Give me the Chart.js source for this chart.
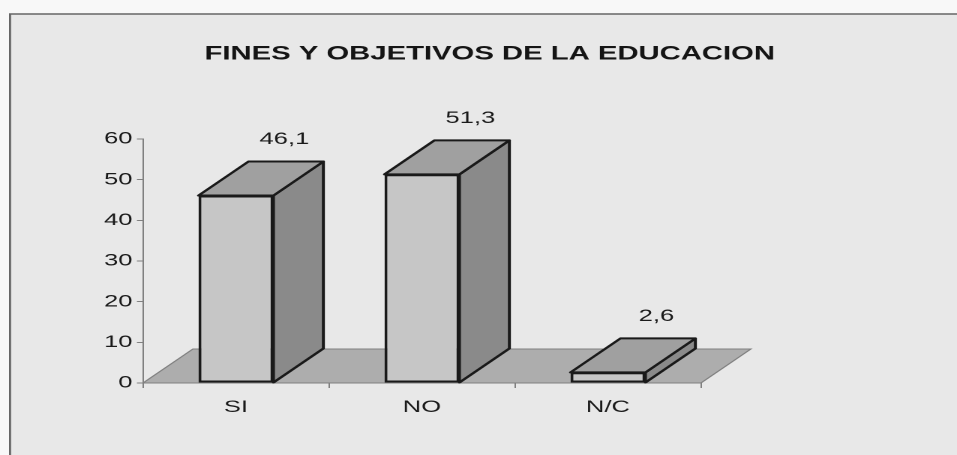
<!DOCTYPE html>
<html>
<head>
<meta charset="utf-8">
<script src="https://cdn.jsdelivr.net/npm/chart.js@4/dist/chart.umd.min.js"></script>
<style>
html,body{margin:0;padding:0;background:#f8f8f8;overflow:hidden}
canvas{display:block}
</style>
</head>
<body>
<canvas id="c" width="638" height="455" style="width:957px;height:455px"></canvas>
<script>
// ---- data ----
const chartTitle = 'FINES Y OBJETIVOS DE LA EDUCACION';
const categories = ['SI', 'NO', 'N/C'];
const values = [46.1, 51.3, 2.6];
const yMin = 0, yMax = 60, yStep = 10;

// ---- style (the scan is stretched horizontally ~1.5x; canvas is drawn narrow and CSS-stretched) ----
const DEPTH_X = 33.3, DEPTH_Y = -34;
const fmt = v => v.toLocaleString('es-ES', {minimumFractionDigits: 1, maximumFractionDigits: 1});

Chart.defaults.font.family = "'Liberation Sans', Arial, sans-serif";
Chart.defaults.color = '#1a1a1a';

const bars3d = {
  id: 'bars3d',
  beforeDraw(chart) {
    const ctx = chart.ctx;
    ctx.save();
    ctx.fillStyle = '#f8f8f8';
    ctx.fillRect(0, 0, chart.width, chart.height);
    ctx.fillStyle = '#e8e8e8';
    ctx.fillRect(6.7, 14, chart.width, chart.height);
    ctx.strokeStyle = '#666666';
    ctx.lineWidth = 1.4;
    ctx.beginPath();
    ctx.moveTo(6.7, chart.height + 5);
    ctx.lineTo(6.7, 14);
    ctx.lineTo(chart.width + 5, 14);
    ctx.stroke();
    ctx.restore();
  },
  beforeDatasetsDraw(chart) {
    const ctx = chart.ctx;
    const {left, right, bottom} = chart.chartArea;
    ctx.save();
    ctx.beginPath();
    ctx.moveTo(left, bottom);
    ctx.lineTo(right, bottom);
    ctx.lineTo(right + DEPTH_X, bottom + DEPTH_Y);
    ctx.lineTo(left + DEPTH_X, bottom + DEPTH_Y);
    ctx.closePath();
    ctx.fillStyle = '#adadad';
    ctx.fill();
    ctx.strokeStyle = '#808080';
    ctx.lineWidth = 1;
    ctx.stroke();
    ctx.restore();
  },
  afterDatasetsDraw(chart) {
    const ctx = chart.ctx;
    const meta = chart.getDatasetMeta(0);
    ctx.save();
    ctx.lineJoin = 'round';
    ctx.lineWidth = 2;
    ctx.strokeStyle = '#1a1a1a';
    meta.data.forEach((bar, i) => {
      const {x, y, base, width} = bar.getProps(['x', 'y', 'base', 'width'], true);
      const l = x - width / 2, r = x + width / 2;
      // side face
      ctx.beginPath();
      ctx.moveTo(r, y);
      ctx.lineTo(r + DEPTH_X, y + DEPTH_Y);
      ctx.lineTo(r + DEPTH_X, base + DEPTH_Y);
      ctx.lineTo(r, base);
      ctx.closePath();
      ctx.fillStyle = '#8a8a8a';
      ctx.fill();
      ctx.stroke();
      // top face
      ctx.beginPath();
      ctx.moveTo(l, y);
      ctx.lineTo(r, y);
      ctx.lineTo(r + DEPTH_X, y + DEPTH_Y);
      ctx.lineTo(l + DEPTH_X, y + DEPTH_Y);
      ctx.closePath();
      ctx.fillStyle = '#a0a0a0';
      ctx.fill();
      ctx.stroke();
      // value label
      ctx.fillStyle = '#1a1a1a';
      ctx.font = "17px 'Liberation Sans', Arial, sans-serif";
      ctx.textAlign = 'center';
      ctx.textBaseline = 'middle';
      ctx.fillText(fmt(values[i]), x + DEPTH_X - 1, y + DEPTH_Y - 22);
    });
    ctx.restore();
  }
};

new Chart(document.getElementById('c'), {
  type: 'bar',
  data: {
    labels: categories,
    datasets: [{
      data: values,
      backgroundColor: '#c6c6c6',
      borderColor: '#1a1a1a',
      borderWidth: 2,
      borderSkipped: false,
      barPercentage: 0.403,
      categoryPercentage: 1.0
    }]
  },
  options: {
    responsive: false,
    devicePixelRatio: 2,
    animation: false,
    layout: {padding: {left: 15, right: 0, top: 0, bottom: 0}},
    plugins: {
      legend: {display: false},
      tooltip: {enabled: false},
      title: {
        display: true,
        text: chartTitle,
        color: '#151515',
        font: {size: 19.5, weight: 'bold'},
        padding: {top: 42.3, bottom: 73.3}
      }
    },
    scales: {
      x: {
        grid: {drawOnChartArea: false, drawTicks: true, tickLength: 5, color: '#808080'},
        border: {display: true, color: '#808080', width: 1},
        ticks: {font: {size: 17}, padding: 9, color: '#1a1a1a'},
        afterFit(s) { s.height = 72; }
      },
      y: {
        min: yMin, max: yMax,
        ticks: {stepSize: yStep, font: {size: 17}, padding: 3, color: '#1a1a1a'},
        grid: {drawOnChartArea: false, drawTicks: true, tickLength: 4, color: '#808080'},
        border: {display: true, color: '#808080', width: 1},
        afterFit(s) { s.width = 80.3; }
      },
      yRight: {
        type: 'linear',
        position: 'right',
        display: true,
        grid: {display: false},
        border: {display: false},
        ticks: {display: false},
        afterFit(s) { s.width = 170.7; }
      }
    }
  },
  plugins: [bars3d]
});
</script>
</body>
</html>
